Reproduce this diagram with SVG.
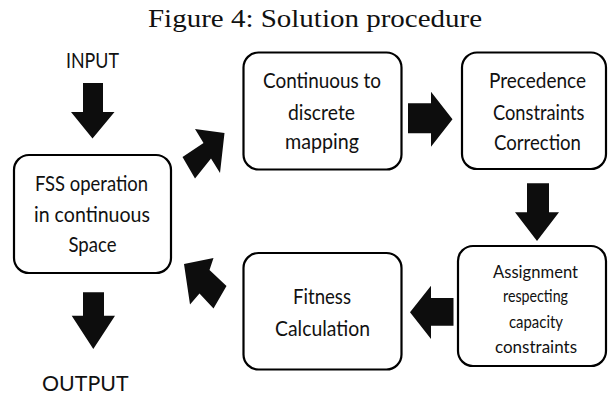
<svg xmlns="http://www.w3.org/2000/svg" width="608" height="394" viewBox="0 0 608 394">
<style>
.box{fill:#fff;stroke:#000;stroke-width:2.2}
.t{font-family:Lato,"Open Sans","Liberation Sans",sans-serif;font-size:22px;fill:#111}
.s{font-size:17.5px}
.arr{fill:#0d0d0d;stroke:none}
.title{font-family:"Liberation Serif","DejaVu Serif",serif;font-size:25px;fill:#111}
</style>
<rect width="608" height="394" fill="#fff"/>
<text class="title" x="148" y="27" textLength="334" lengthAdjust="spacingAndGlyphs">Figure 4: Solution procedure</text>

<g id="input">
<text class="t" x="66" y="68" textLength="53" lengthAdjust="spacingAndGlyphs">INPUT</text>
</g>
<g id="output">
<text class="t" x="42" y="390.5" textLength="86.5" lengthAdjust="spacingAndGlyphs">OUTPUT</text>
</g>

<g id="fss">
<rect class="box" x="14" y="155" width="157" height="118" rx="15"/>
<text class="t" x="35" y="191" textLength="113" lengthAdjust="spacingAndGlyphs">FSS operation</text>
<text class="t" x="34" y="222" textLength="116" lengthAdjust="spacingAndGlyphs">in continuous</text>
<text class="t" x="68.5" y="252" textLength="48" lengthAdjust="spacingAndGlyphs">Space</text>
</g>

<g id="mapping">
<rect class="box" x="243.5" y="52.5" width="158" height="117" rx="15"/>
<text class="t" x="263" y="88" textLength="118" lengthAdjust="spacingAndGlyphs">Continuous to</text>
<text class="t" x="288" y="119.5" textLength="67" lengthAdjust="spacingAndGlyphs">discrete</text>
<text class="t" x="285" y="148.5" textLength="74" lengthAdjust="spacingAndGlyphs">mapping</text>
</g>

<g id="precedence">
<rect class="box" x="462" y="52.5" width="144" height="116.5" rx="15"/>
<text class="t" x="489" y="88" textLength="97" lengthAdjust="spacingAndGlyphs">Precedence</text>
<text class="t" x="493" y="119.5" textLength="91.5" lengthAdjust="spacingAndGlyphs">Constraints</text>
<text class="t" x="494" y="149.5" textLength="87" lengthAdjust="spacingAndGlyphs">Correction</text>
</g>

<g id="assignment">
<rect class="box" x="458" y="246" width="148" height="120" rx="15"/>
<text class="t s" x="493" y="278" textLength="85" lengthAdjust="spacingAndGlyphs">Assignment</text>
<text class="t s" x="503" y="302" textLength="65" lengthAdjust="spacingAndGlyphs">respecting</text>
<text class="t s" x="509" y="327.5" textLength="54" lengthAdjust="spacingAndGlyphs">capacity</text>
<text class="t s" x="495" y="352.5" textLength="82" lengthAdjust="spacingAndGlyphs">constraints</text>
</g>

<g id="fitness">
<rect class="box" x="243.5" y="253" width="158" height="116.5" rx="15"/>
<text class="t" x="293" y="304" textLength="58" lengthAdjust="spacingAndGlyphs">Fitness</text>
<text class="t" x="275" y="336" textLength="95" lengthAdjust="spacingAndGlyphs">Calculation</text>
</g>

<g id="connectors">
<polygon class="arr" points="83,83 103,83 103,112 114.5,112 92.5,138.5 71,112 83,112"/>
<polygon class="arr" points="224.5,133 195,129 203.5,143 182.5,157 195,178.5 211,158.5 220,173"/>
<polygon class="arr" points="408,103.3 431,103.3 431,91.7 452.5,119.2 431,146.7 431,133.3 408,133.3"/>
<polygon class="arr" points="527,183.3 549,183.3 549,212.3 559,212.3 537,241 515,212.3 527,212.3"/>
<polygon class="arr" points="453.5,298 431,298 431,285.7 410,312.3 431,339 431,325.7 453.5,325.7"/>
<polygon class="arr" points="184,264 213.5,258 209.5,270 226.5,286 213.5,308.5 199.5,293.5 190,304.5"/>
<polygon class="arr" points="83,292.3 104,292.3 104,315.7 115,315.7 93.3,349 71.7,315.7 83,315.7"/>
</g>
</svg>
